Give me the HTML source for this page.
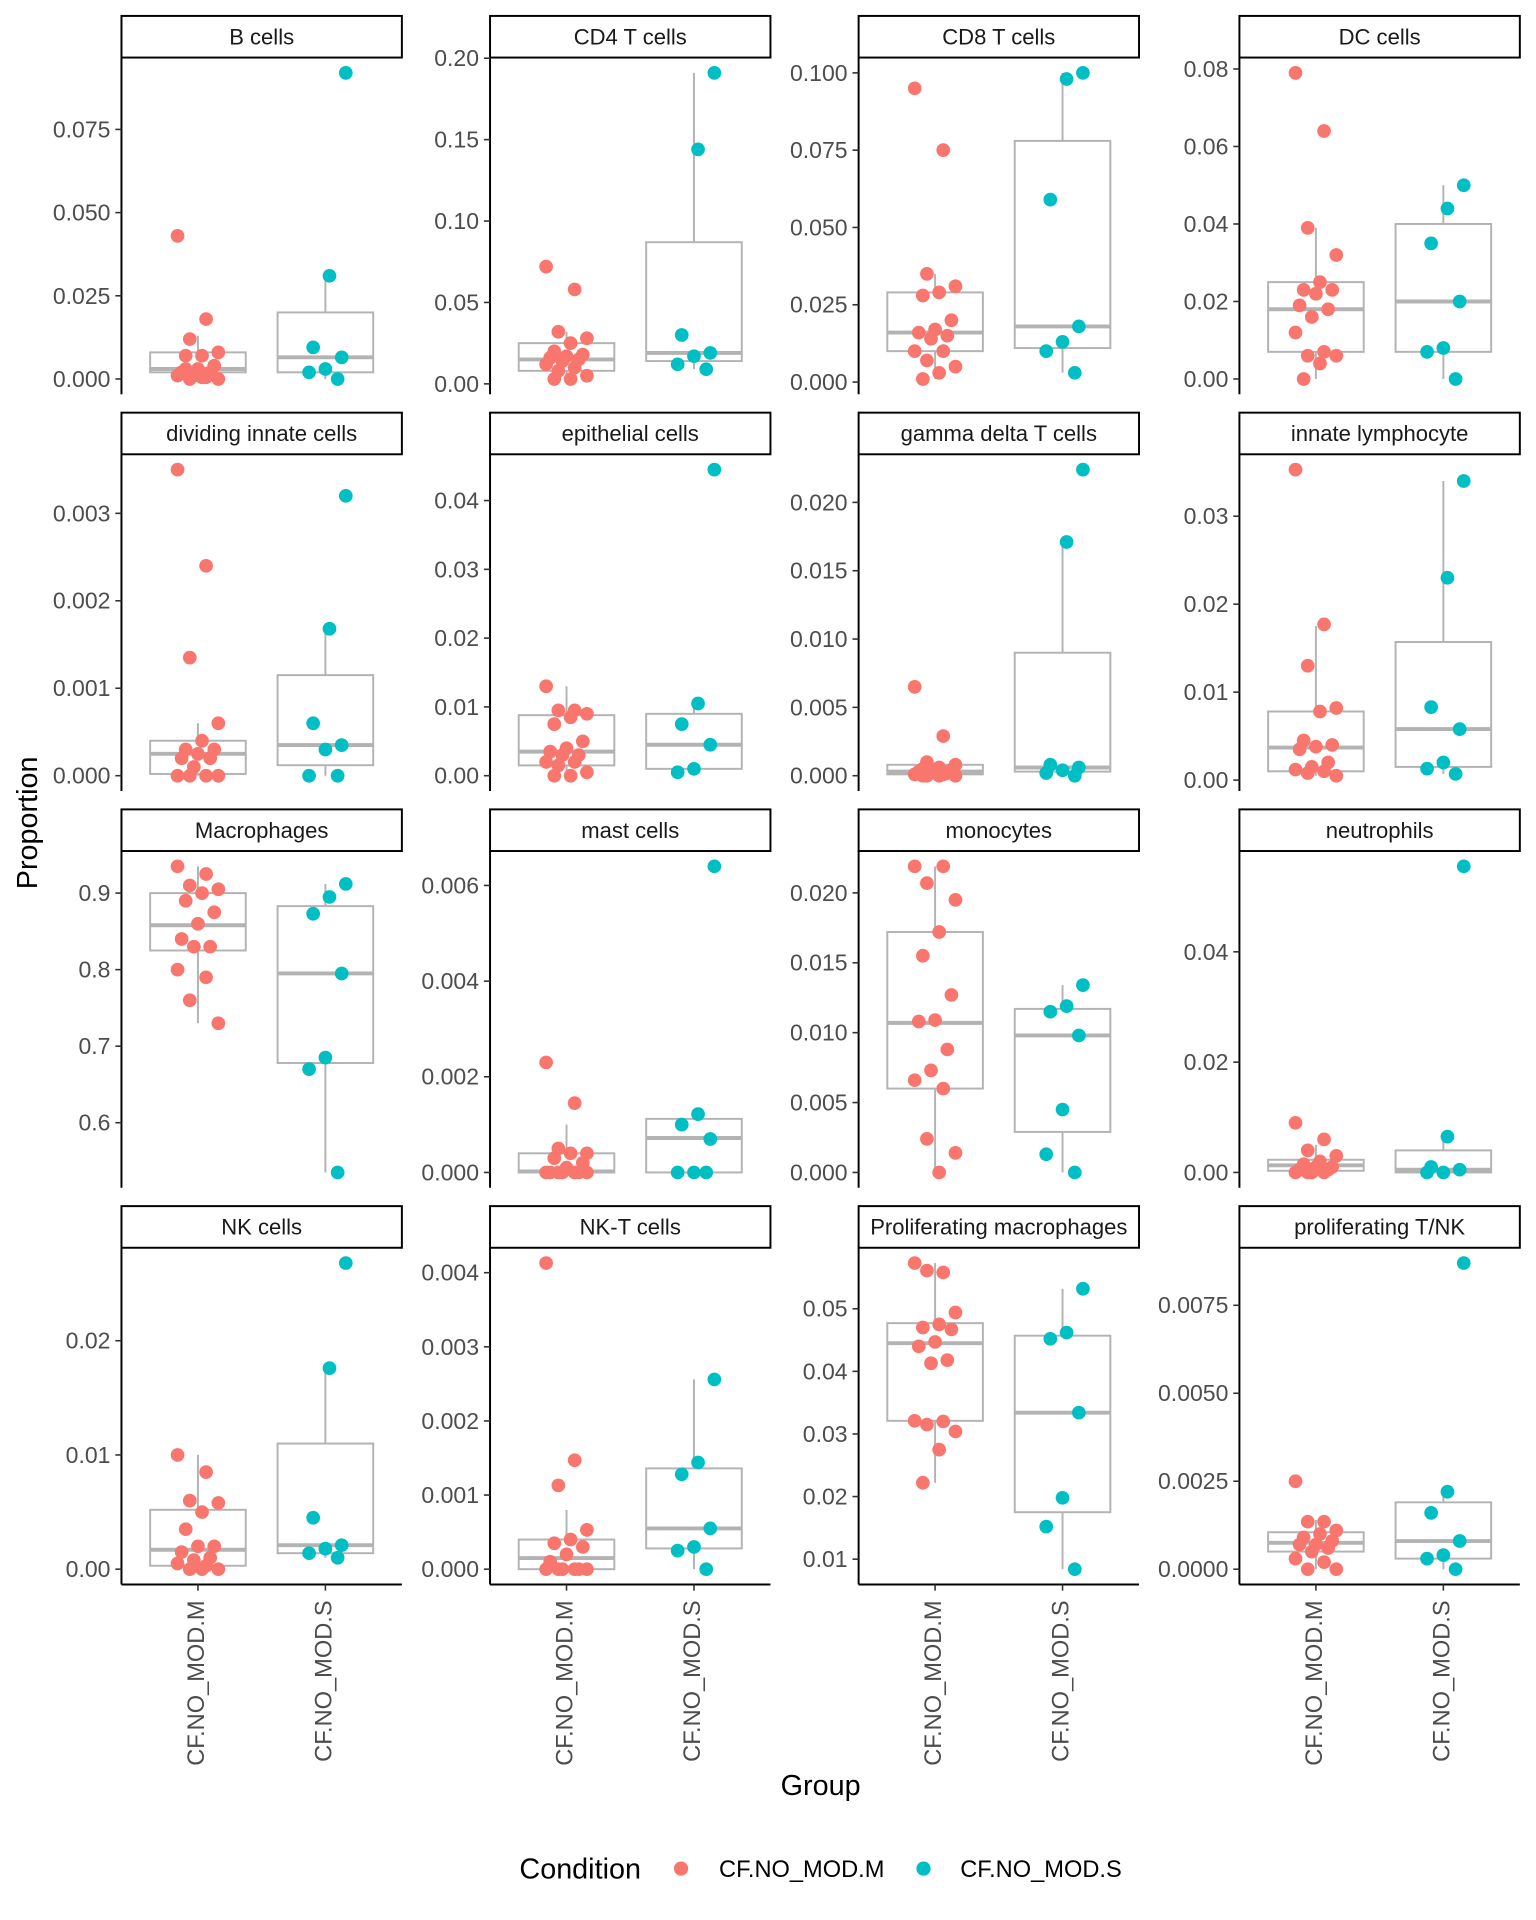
<!DOCTYPE html>
<html><head><meta charset="utf-8">
<style>
html,body{margin:0;padding:0;background:#fff;}
svg{display:block;font-family:"Liberation Sans",Arial,sans-serif;}
</style></head>
<body>
<svg id="chart" width="1536" height="1920" viewBox="0 0 1254 1568" xmlns="http://www.w3.org/2000/svg">
<text x="0" y="0" transform="translate(30,672) rotate(-90)" text-anchor="middle" font-size="23.5" fill="#000">Proportion</text>
<text x="670" y="1466" text-anchor="middle" font-size="23.5" fill="#000">Group</text>
<g>
<text x="424" y="1534" font-size="23.5" fill="#000">Condition</text>
<circle cx="556" cy="1526" r="5.8" fill="#F8766D"/>
<text x="587" y="1533" font-size="19.3" fill="#000">CF.NO_MOD.M</text>
<circle cx="754" cy="1526" r="5.8" fill="#00BFC4"/>
<text x="784" y="1533" font-size="19.3" fill="#000">CF.NO_MOD.S</text>
</g>
</svg>
<script>
const panelTitles = ["B cells","CD4 T cells","CD8 T cells","DC cells","dividing innate cells","epithelial cells","gamma delta T cells","innate lymphocyte","Macrophages","mast cells","monocytes","neutrophils","NK cells","NK-T cells","Proliferating macrophages","proliferating T/NK"];
const groups = ["CF.NO_MOD.M","CF.NO_MOD.S"];
const valuesM = [
[0.043,0.018,0.012,0.008,0.007,0.007,0.004,0.003,0.002,0.002,0.001,0.001,0.0005,0,0,0.0005,0.003],
[0.072,0.058,0.032,0.028,0.025,0.02,0.018,0.017,0.016,0.015,0.014,0.012,0.01,0.008,0.005,0.003,0.003],
[0.095,0.075,0.035,0.031,0.029,0.028,0.020,0.017,0.016,0.015,0.014,0.010,0.010,0.007,0.005,0.003,0.001],
[0.079,0.064,0.039,0.032,0.025,0.023,0.023,0.022,0.019,0.018,0.016,0.012,0.007,0.006,0.006,0.004,0],
[0.0035,0.0024,0.00135,0.0006,0.0004,0.0003,0.0003,0.00025,0.0002,0.0002,0.0001,0,0,0,0],
[0.013,0.0095,0.0095,0.009,0.0085,0.0075,0.005,0.004,0.0035,0.003,0.003,0.002,0.002,0.0015,0.0005,0,0],
[0.0065,0.0029,0.001,0.0008,0.0006,0.0005,0.0004,0.0003,0.0003,0.0002,0.0002,0.0001,0.0001,0,0,0,0],
[0.0353,0.0177,0.013,0.0082,0.0078,0.0045,0.004,0.0038,0.0035,0.002,0.0015,0.0012,0.001,0.0008,0.0005],
[0.935,0.925,0.91,0.905,0.90,0.89,0.875,0.86,0.84,0.83,0.83,0.80,0.79,0.76,0.73],
[0.0023,0.00145,0.0005,0.0004,0.0004,0.0003,0.0002,0.0001,0,0,0,0,0,0,0],
[0.0219,0.0219,0.0207,0.0195,0.0172,0.0155,0.0127,0.0109,0.0108,0.0088,0.0073,0.0066,0.006,0.0024,0.0014,0],
[0.009,0.006,0.004,0.003,0.002,0.0015,0.001,0.001,0.0005,0.0005,0,0,0,0],
[0.010,0.0085,0.006,0.0058,0.005,0.0035,0.002,0.002,0.0015,0.001,0.0008,0.0005,0.0003,0,0,0],
[0.00413,0.00147,0.00113,0.00053,0.0004,0.00035,0.0003,0.0002,0.0001,0,0,0,0,0,0],
[0.0573,0.0558,0.0561,0.0494,0.0475,0.0470,0.0467,0.0447,0.0440,0.0418,0.0413,0.0321,0.0320,0.0315,0.0304,0.0275,0.0222],
[0.0025,0.00135,0.00135,0.0011,0.001,0.0009,0.0008,0.0007,0.0007,0.0006,0.0005,0.0003,0.0002,0,0]
];
const valuesS = [
[0.092,0.031,0.0095,0.0065,0.003,0.002,0],
[0.191,0.144,0.030,0.019,0.017,0.012,0.009],
[0.100,0.098,0.059,0.018,0.013,0.010,0.003],
[0.050,0.044,0.035,0.020,0.008,0.007,0],
[0.0032,0.00168,0.0006,0.00035,0.0003,0,0],
[0.0445,0.0105,0.0075,0.0045,0.001,0.0005],
[0.0224,0.0171,0.0008,0.0006,0.0004,0.0002,0],
[0.034,0.023,0.0083,0.0058,0.002,0.0013,0.0007],
[0.912,0.895,0.873,0.795,0.685,0.67,0.535],
[0.0064,0.00122,0.001,0.0007,0,0,0],
[0.0134,0.0119,0.0115,0.0098,0.0045,0.0013,0],
[0.0555,0.0065,0.001,0.0005,0,0],
[0.0268,0.0176,0.0045,0.0021,0.0018,0.0014,0.001],
[0.00256,0.00144,0.00128,0.00055,0.0003,0.00025,0],
[0.0532,0.0462,0.0452,0.0334,0.0198,0.0152,0.0084],
[0.0087,0.0022,0.0016,0.0008,0.0004,0.0003,0]
];
// box stats: [whiskerLow, q1, median, q3, whiskerHigh]
const boxM = [
[0,0.002,0.003,0.008,0.013],[0.003,0.008,0.015,0.025,0.032],[0.001,0.010,0.016,0.029,0.035],[0,0.007,0.018,0.025,0.039],
[0,0.00002,0.00025,0.0004,0.0006],[0,0.0015,0.0035,0.0088,0.013],[0,0.0001,0.0003,0.0008,0.001],[0.0005,0.001,0.0037,0.0078,0.0175],
[0.73,0.825,0.858,0.90,0.935],[0,0,0.00002,0.0004,0.001],[0,0.006,0.0107,0.0172,0.0219],[0,0.0003,0.0013,0.0023,0.005],
[0,0.0003,0.0017,0.0052,0.010],[0,0,0.00015,0.0004,0.0008],[0.0222,0.0321,0.0445,0.0477,0.0573],[0,0.0005,0.00075,0.00105,0.0014]
];
const boxS = [
[0,0.002,0.0065,0.020,0.031],[0.009,0.014,0.019,0.087,0.191],[0.003,0.011,0.018,0.078,0.100],[0,0.007,0.020,0.040,0.050],
[0,0.00012,0.00035,0.00115,0.00168],[0.0005,0.001,0.0045,0.009,0.0105],[0,0.0003,0.0006,0.009,0.0171],[0.0007,0.0015,0.0058,0.0157,0.034],
[0.535,0.678,0.795,0.883,0.912],[0,0,0.00072,0.00112,0.00122],[0,0.0029,0.0098,0.0117,0.0134],[0,0,0.0005,0.004,0.0065],
[0.001,0.0014,0.0021,0.011,0.0176],[0,0.00028,0.00055,0.00136,0.00256],[0.0084,0.0175,0.0334,0.0457,0.0532],[0,0.0003,0.0008,0.0019,0.0022]
];
const tickValues = [
[0,0.025,0.05,0.075],[0,0.05,0.1,0.15,0.2],[0,0.025,0.05,0.075,0.1],[0,0.02,0.04,0.06,0.08],
[0,0.001,0.002,0.003],[0,0.01,0.02,0.03,0.04],[0,0.005,0.01,0.015,0.02],[0,0.01,0.02,0.03],
[0.6,0.7,0.8,0.9],[0,0.002,0.004,0.006],[0,0.005,0.01,0.015,0.02],[0,0.02,0.04],
[0,0.01,0.02],[0,0.001,0.002,0.003,0.004],[0.01,0.02,0.03,0.04,0.05],[0,0.0025,0.005,0.0075]
];
const tickDigits = [3,2,3,2,3,2,3,2,1,3,3,2,2,3,2,4];

const NS="http://www.w3.org/2000/svg";
const svg=document.getElementById('chart');
function mk(tag,attrs,parent){const e=document.createElementNS(NS,tag);for(const k in attrs)e.setAttribute(k,attrs[k]);(parent||svg).appendChild(e);return e;}
const colLeft=[99,400,701,1012], panelW=229, rowTop=[47,371,695,1019], panelH=275, stripH=34;
const colors=["#F8766D","#00BFC4"];
function jit(i){return (((i*7)%11)/10-0.5)*0.32;}
panelTitles.forEach((title,p)=>{
  const r=Math.floor(p/4), c=p%4, L=colLeft[c], T=rowTop[r];
  const g=mk('g',{});
  
  
  const all=valuesM[p].concat(valuesS[p],boxM[p],boxS[p]);
  const mn=Math.min(...all), mx=Math.max(...all), rg=mx-mn;
  const d0=mn-0.05*rg, d1=mx+0.05*rg;
  const y=v=>T+panelH-(v-d0)/(d1-d0)*panelH;
  const unit=panelW/2.2;
  const x=k=>L+(0.6+k)*unit;
  const st=mk('rect',{x:L,y:T-stripH,width:panelW,height:stripH,fill:'#fff',stroke:'#000','stroke-width':1.6},g);
  
  
  const stt=mk('text',{x:L+panelW/2,y:T-stripH/2+6.2,'text-anchor':'middle','font-size':18,fill:'#1a1a1a'},g);
  stt.textContent=title;
  
  
  const ax=mk('line',{x1:L,y1:T,x2:L,y2:T+panelH,stroke:'#000','stroke-width':1.6},g);
  
  
  tickValues[p].forEach(tv=>{
    const yy=y(tv);
    const tl=mk('line',{x1:L-5,y1:yy,x2:L,y2:yy,stroke:'#333','stroke-width':1.3},g);
    
    
    const tt=mk('text',{x:L-9,y:yy+6.5,'text-anchor':'end','font-size':18.8,fill:'#4d4d4d'},g);
    tt.textContent=tv.toFixed(tickDigits[p]);
    
    
  });
  if(r===3){
    const bx=mk('line',{x1:L,y1:T+panelH,x2:L+panelW,y2:T+panelH,stroke:'#000','stroke-width':1.6},g);
    
    
    groups.forEach((gn,k)=>{
      const tk=mk('line',{x1:x(k),y1:T+panelH,x2:x(k),y2:T+panelH+5,stroke:'#333','stroke-width':1.3},g);
      
      
      const xl=mk('text',{transform:`translate(${x(k)+5},${T+panelH+13}) rotate(-90)`,'text-anchor':'end','font-size':19.3,fill:'#4d4d4d'},g);
      xl.textContent=gn;
      
      
    });
  }
  [boxM[p],boxS[p]].forEach((b,k)=>{
    const cx=x(k), hw=unit*0.375;
    const bg=mk('g',{},g);
    
    
    mk('line',{x1:cx,y1:y(b[0]),x2:cx,y2:y(b[1]),stroke:'#b3b3b3','stroke-width':1.6},bg);
    mk('line',{x1:cx,y1:y(b[3]),x2:cx,y2:y(b[4]),stroke:'#b3b3b3','stroke-width':1.6},bg);
    mk('rect',{x:cx-hw,y:y(b[3]),width:2*hw,height:Math.max(0.5,y(b[1])-y(b[3])),fill:'#fff',stroke:'#b3b3b3','stroke-width':1.6},bg);
    mk('line',{x1:cx-hw,y1:y(b[2]),x2:cx+hw,y2:y(b[2]),stroke:'#b3b3b3','stroke-width':3.2},bg);
  });
  [valuesM[p],valuesS[p]].forEach((vals,k)=>{
    vals.forEach((v,i)=>{
      const pt=mk('circle',{cx:x(k+jit(i+k*3)),cy:y(v),r:5.6,fill:colors[k]},g);
      
      
    });
  });
});
</script>
</body></html>
